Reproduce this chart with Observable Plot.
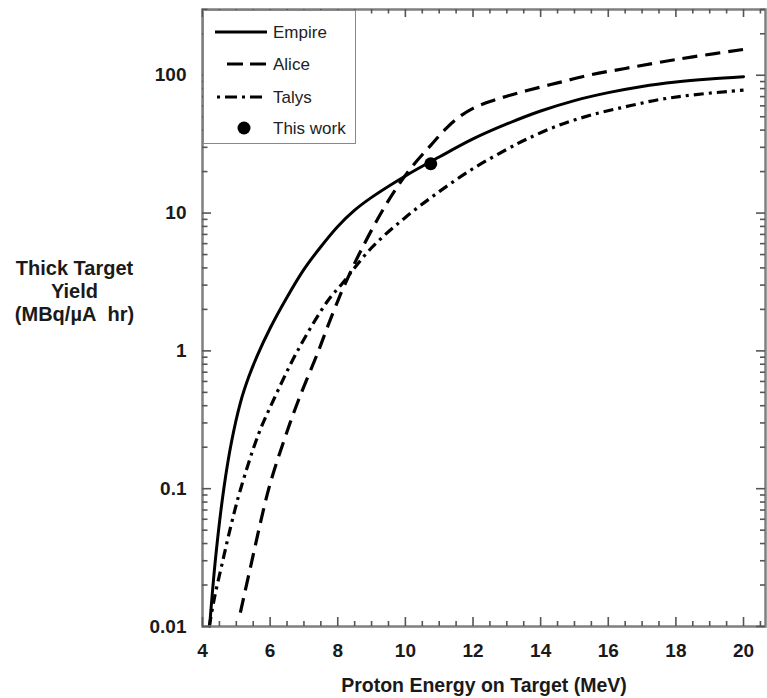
<!DOCTYPE html>
<html>
<head>
<meta charset="utf-8">
<script src="https://cdn.jsdelivr.net/npm/d3@7"></script>
<script src="https://cdn.jsdelivr.net/npm/@observablehq/plot@0.6"></script>
<style>
  html, body { margin: 0; padding: 0; background: #fff; }
  #wrap { position: relative; width: 767px; height: 698px; font-family: "Liberation Sans", Arial, Helvetica, sans-serif; }
  #legend { position: absolute; left: 203px; top: 10px; width: 153px; height: 134px; border: 1.5px solid #888; background: #fff; box-sizing: border-box; }
</style>
</head>
<body>
<div id="wrap"></div>
<script>
// ---- data ----
const energyTicks = [4, 6, 8, 10, 12, 14, 16, 18, 20];
const yieldTicks = [0.01, 0.1, 1, 10, 100];
const yieldTickLabels = ["0.01", "0.1", "1", "10", "100"];

const empireE = [4.21, 4.39, 4.63, 4.86, 5.12, 5.36, 5.62, 6.0, 6.5, 7.0, 7.5, 8.0, 8.5, 9.0, 10.0, 11.0, 12.0, 13.0, 14.0, 15.0, 16.0, 17.0, 18.0, 19.0, 20.0];
const empireY = [0.01, 0.032, 0.1, 0.22, 0.42, 0.64, 0.925, 1.46, 2.45, 3.9, 5.7, 8.0, 10.5, 13.0, 18.6, 25.5, 34.5, 44.3, 55, 65.5, 74.8, 83, 89.3, 94, 97.7];

const aliceE = [5.12, 5.42, 5.96, 6.4, 6.84, 7.43, 7.7, 8.0, 8.2, 8.66, 9.26, 9.76, 10.25, 10.75, 11.2, 11.6, 12.0, 12.5, 13.0, 13.6, 14.5, 15.5, 16.5, 17.5, 18.5, 20.0];
const aliceY = [0.0126, 0.027, 0.1, 0.22, 0.44, 1.0, 1.5, 2.3, 3.0, 5.2, 9.8, 15.5, 22.5, 31, 41, 50, 57.5, 64.5, 70.5, 77.5, 88, 101, 112, 124, 136, 154];

const talysE = [4.2, 4.35, 4.6, 4.85, 5.13, 5.66, 6.1, 6.81, 7.7, 8.14, 9.0, 10.0, 11.0, 12.0, 13.0, 13.6, 14.5, 15.5, 16.5, 17.5, 18.5, 20.0];
const talysY = [0.01, 0.016, 0.03, 0.055, 0.1, 0.25, 0.44, 1.0, 2.3, 3.1, 5.6, 9.3, 14.3, 21, 29, 34.5, 43, 51.5, 59, 66.5, 72, 78];

const thisWorkE = [10.75];
const thisWorkY = [22.8];

const seriesNames = ["Empire", "Alice", "Talys", "This work"];

// ---- build tables ----
const toRows = (E, Y) => E.map((e, i) => ({e, y: Y[i]}));
const empire = toRows(empireE, empireY);
const alice = toRows(aliceE, aliceY);
const talys = toRows(talysE, talysY);
const thisWork = toRows(thisWorkE, thisWorkY);

const energyMinor = d3.range(4.5, 20.51, 0.5).filter(v => v % 2 !== 0);
const yieldMinor = [];
for (const base of [0.01, 0.1, 1, 10, 100]) for (let k = 2; k <= 9; k++) { const v = +(base * k).toPrecision(3); if (v <= 300) yieldMinor.push(v); }

const W = 767, H = 698, ML = 202, MR = 2, MT = 9, MB = 72;
const FH = H - MT - MB, FW = W - ML - MR;
const FONT = "Liberation Sans, Arial, Helvetica, sans-serif";
const tk = { stroke: "#555", strokeWidth: 1.6 };

const chart = Plot.plot({
  width: W,
  height: H,
  marginLeft: ML,
  marginRight: MR,
  marginTop: MT,
  marginBottom: MB,
  style: { fontFamily: FONT, background: "#fff", color: "#1a1a1a" },
  x: { domain: [4, 20.65] },
  y: { type: "log", domain: [0.01, 300] },
  marks: [
    // curves
    Plot.line(empire, { x: "e", y: "y", stroke: "#000", strokeWidth: 3, curve: "catmull-rom" }),
    Plot.line(alice, { x: "e", y: "y", stroke: "#000", strokeWidth: 3.2, strokeDasharray: "15,8", strokeLinecap: "butt", curve: "catmull-rom" }),
    Plot.line(talys, { x: "e", y: "y", stroke: "#000", strokeWidth: 3.2, strokeDasharray: "10,5,3,5", strokeLinecap: "butt", curve: "catmull-rom" }),
    Plot.dot(thisWork, { x: "e", y: "y", r: 6.5, fill: "#000", stroke: "none" }),
    // frame
    Plot.frame({ stroke: "#7f7f7f", strokeWidth: 2.5 }),
    // inward ticks, bottom & top
    Plot.tickX(energyTicks, { x: d => d, insetTop: FH - 9, ...tk }),
    Plot.tickX(energyMinor, { x: d => d, insetTop: FH - 5, ...tk }),
    Plot.tickX(energyTicks, { x: d => d, insetBottom: FH - 8, ...tk }),
    Plot.tickX(energyMinor, { x: d => d, insetBottom: FH - 4.5, ...tk }),
    // inward ticks, left & right
    Plot.tickY(yieldTicks, { y: d => d, insetRight: FW - 9, ...tk }),
    Plot.tickY(yieldMinor, { y: d => d, insetRight: FW - 5.5, ...tk }),
    Plot.tickY(yieldTicks, { y: d => d, insetLeft: FW - 9, ...tk }),
    Plot.tickY(yieldMinor, { y: d => d, insetLeft: FW - 5, ...tk }),
    // tick labels
    Plot.axisX({ ticks: energyTicks, tickSize: 0, tickPadding: 17, tickFormat: d => String(d), fontSize: 19, fontWeight: "bold", label: null }),
    Plot.axisY({ ticks: yieldTicks, tickSize: 0, tickPadding: 16, tickFormat: d => yieldTickLabels[yieldTicks.indexOf(d)], fontSize: 19, fontWeight: "bold", label: null }),
    // axis titles
    Plot.text(["Proton Energy on Target (MeV)"], { text: d => d, frameAnchor: "bottom", dy: 59, lineAnchor: "middle", textAnchor: "middle", fontSize: 19.5, fontWeight: "bold", fill: "#1a1a1a" }),
    Plot.text(["Thick Target\nYield\n(MBq/\u00b5A\u00a0 hr)"], { text: d => d, frameAnchor: "left", dx: -128, dy: -27, lineAnchor: "middle", textAnchor: "middle", lineHeight: 1.15, fontSize: 20, fontWeight: "bold", fill: "#1a1a1a" })
  ]
});

const wrap = document.getElementById("wrap");
wrap.appendChild(chart);

// ---- legend (inset box, top-left of plot frame) ----
const legend = document.createElement("div");
legend.id = "legend";
wrap.appendChild(legend);
const lsvg = d3.select(legend).append("svg").attr("width", 150).attr("height", 131).style("display", "block");
const rowsY = [21, 53, 86, 117];
const styles = [
  { dash: null, x1: 11, x2: 63 },
  { dash: "16,7", x1: 23, x2: 62 },
  { dash: "3,5,12,5", x1: 13, x2: 62 },
  null
];
seriesNames.forEach((name, i) => {
  const y = rowsY[i];
  const s = styles[i];
  if (s) {
    lsvg.append("line").attr("x1", s.x1).attr("x2", s.x2).attr("y1", y).attr("y2", y)
      .attr("stroke", "#000").attr("stroke-width", 3).attr("stroke-dasharray", s.dash);
  } else {
    lsvg.append("circle").attr("cx", 40).attr("cy", y).attr("r", 6.5).attr("fill", "#000");
  }
  lsvg.append("text").attr("x", 69).attr("y", y).attr("dy", "0.35em")
    .attr("font-family", FONT).attr("font-size", 17).attr("fill", "#222").text(name);
});
</script>
</body>
</html>
